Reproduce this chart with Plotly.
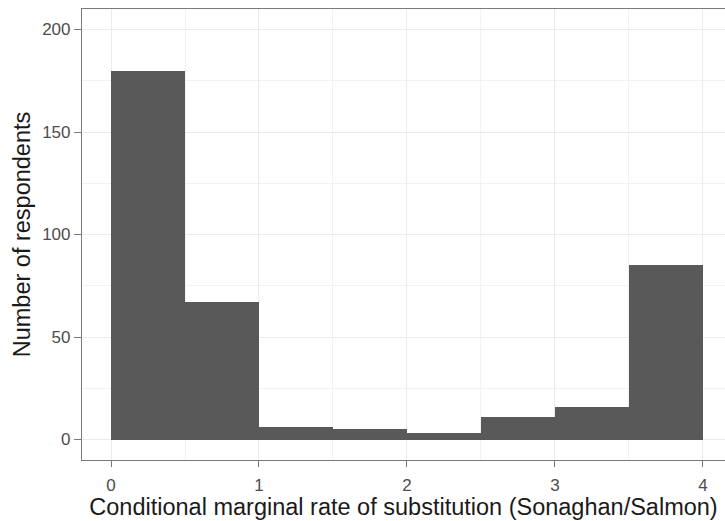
import plotly.graph_objects as go

bin_left = [0.0, 0.5, 1.0, 1.5, 2.0, 2.5, 3.0, 3.5]
bin_width = 0.5
counts = [180, 67, 6, 5, 3, 11, 16, 85]
x_ticks = [0, 1, 2, 3, 4]
y_ticks = [0, 50, 100, 150, 200]

centers = [b + bin_width / 2 for b in bin_left]

fig = go.Figure()
fig.add_trace(go.Bar(
    x=centers, y=counts, width=[bin_width] * len(counts),
    marker=dict(color="#595959", line=dict(width=0)),
    hoverinfo="x+y",
))

border = "#7a7a7a"
fig.update_layout(
    width=725, height=521,
    margin=dict(l=82, r=0, t=9, b=61),
    paper_bgcolor="white", plot_bgcolor="white",
    font=dict(family="Liberation Sans, Arial, sans-serif", color="#4d4d4d", size=17),
    showlegend=False, bargap=0,
)
fig.update_xaxes(
    automargin=False,
    range=[-0.196, 4.149], tickvals=x_ticks, ticktext=[str(v) for v in x_ticks],
    showgrid=True, gridcolor="#ebebeb", gridwidth=1.2,
    minor=dict(dtick=0.5, tick0=0, showgrid=True, gridcolor="#f2f2f2", gridwidth=0.8),
    showline=True, linecolor=border, linewidth=1.2, mirror=True,
    ticks="outside", ticklen=6, tickcolor=border, tickwidth=1.2,
    ticklabelstandoff=3,
    zeroline=False,
    title=dict(text="Conditional marginal rate of substitution (Sonaghan/Salmon)",
               font=dict(size=23.5, color="#1a1a1a"), standoff=3),
)
fig.update_yaxes(
    automargin=False,
    range=[-10, 210], tickvals=y_ticks, ticktext=[str(v) for v in y_ticks],
    showgrid=True, gridcolor="#ebebeb", gridwidth=1.2,
    minor=dict(dtick=25, tick0=0, showgrid=True, gridcolor="#f2f2f2", gridwidth=0.8),
    showline=True, linecolor=border, linewidth=1.2, mirror=False,
    ticks="outside", ticklen=7, tickcolor=border, tickwidth=1.2,
    zeroline=False,
    title=dict(text="Number of respondents", font=dict(size=23.5, color="#1a1a1a"), standoff=4),
)

fig.write_html("out.html", config={"displayModeBar": False},
               post_script="document.body.style.margin='0';")
